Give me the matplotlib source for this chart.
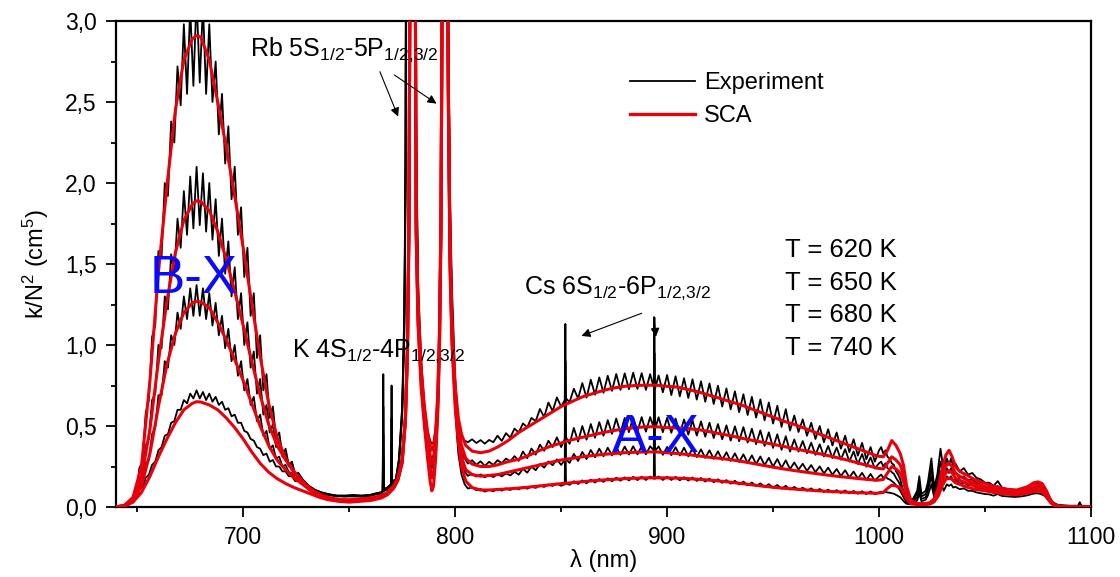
import matplotlib
matplotlib.use('Agg')
import matplotlib.pyplot as plt
from matplotlib.lines import Line2D
from matplotlib.ticker import MultipleLocator, FuncFormatter

plt.rcParams['font.family'] = ['Liberation Sans', 'DejaVu Sans']
plt.rcParams['mathtext.default'] = 'regular'

# ---------------- SCA (semiclassical) absorption, k/N^2 in cm^5 ----------------
sca_wl = [
    640, 644, 648, 652, 656, 660, 664, 668, 672, 676,
    678, 680, 684, 688, 692, 696, 700, 704, 708, 712,
    716, 720, 724, 728, 732, 736, 740, 745, 750, 755,
    760, 765, 768, 771, 773, 775, 776.5, 777.5, 778.2, 779.5,
    780.5, 781.6, 782.5, 784, 785.5, 787, 788.2, 789, 789.8, 790.8,
    791.8, 792.6, 793.3, 795, 796.8, 797.6, 798.5, 800, 801.5, 803,
    805, 808, 812, 816, 820, 825, 830, 835, 840, 845,
    850, 855, 860, 865, 870, 875, 880, 885, 890, 895,
    900, 905, 910, 915, 920, 925, 930, 935, 940, 945,
    950, 955, 960, 965, 970, 975, 980, 985, 990, 995,
    999, 1002, 1004, 1006, 1008, 1010, 1011.5, 1013, 1015, 1018,
    1021, 1024, 1026, 1028, 1030, 1031.5, 1033, 1034.5, 1036, 1038,
    1041, 1045, 1050, 1055, 1060, 1065, 1070, 1073, 1075, 1077,
    1079, 1081, 1083, 1086, 1090, 1100]

sca_740 = [
    0.0, 0.01, 0.06, 0.25, 0.78, 1.45, 1.98, 2.45, 2.76, 2.89,
    2.91, 2.90, 2.76, 2.50, 2.22, 1.92, 1.60, 1.26, 0.93, 0.64,
    0.43, 0.30, 0.21, 0.15, 0.10, 0.07, 0.055, 0.045, 0.045, 0.05,
    0.055, 0.07, 0.09, 0.13, 0.18, 0.30, 0.55, 1.0, 1.8, 6.0,
    6.0, 1.8, 1.25, 0.85, 0.62, 0.46, 0.38, 0.35, 0.37, 0.47,
    0.7, 1.1, 1.8, 6.0, 2.6, 1.6, 1.15, 0.75, 0.55, 0.45,
    0.38, 0.345, 0.335, 0.345, 0.37, 0.41, 0.46, 0.50, 0.54, 0.58,
    0.62, 0.65, 0.68, 0.70, 0.72, 0.735, 0.745, 0.75, 0.752, 0.752,
    0.745, 0.74, 0.725, 0.71, 0.69, 0.67, 0.65, 0.63, 0.605, 0.58,
    0.555, 0.53, 0.51, 0.485, 0.46, 0.435, 0.41, 0.385, 0.36, 0.335,
    0.315, 0.31, 0.35, 0.41, 0.38, 0.33, 0.26, 0.13, 0.04, 0.02,
    0.02, 0.025, 0.05, 0.12, 0.25, 0.32, 0.35, 0.31, 0.25, 0.22,
    0.2, 0.17, 0.145, 0.125, 0.11, 0.105, 0.125, 0.15, 0.155, 0.145,
    0.1, 0.04, 0.012, 0.004, 0.002, 0.0]

sca_680 = [
    0.0, 0.01, 0.05, 0.18, 0.48, 0.90, 1.27, 1.57, 1.77, 1.87,
    1.89, 1.885, 1.83, 1.70, 1.53, 1.33, 1.12, 0.90, 0.69, 0.51,
    0.38, 0.29, 0.22, 0.16, 0.11, 0.08, 0.06, 0.045, 0.04, 0.045,
    0.05, 0.065, 0.085, 0.125, 0.175, 0.29, 0.54, 0.98, 1.75, 6.0,
    6.0, 1.75, 1.2, 0.8, 0.58, 0.42, 0.32, 0.27, 0.29, 0.42,
    0.66, 1.05, 1.75, 6.0, 2.55, 1.55, 1.1, 0.7, 0.49, 0.38,
    0.3, 0.265, 0.25, 0.25, 0.26, 0.28, 0.295, 0.32, 0.35, 0.375,
    0.395, 0.415, 0.43, 0.445, 0.46, 0.472, 0.483, 0.49, 0.495, 0.495,
    0.49, 0.488, 0.484, 0.477, 0.465, 0.452, 0.44, 0.425, 0.412, 0.40,
    0.387, 0.374, 0.36, 0.347, 0.334, 0.32, 0.305, 0.29, 0.272, 0.255,
    0.24, 0.235, 0.27, 0.31, 0.29, 0.26, 0.2, 0.1, 0.035, 0.02,
    0.02, 0.025, 0.045, 0.1, 0.2, 0.255, 0.27, 0.25, 0.21, 0.19,
    0.17, 0.145, 0.125, 0.11, 0.1, 0.095, 0.11, 0.13, 0.135, 0.125,
    0.085, 0.035, 0.01, 0.004, 0.002, 0.0]

sca_650 = [
    0.0, 0.01, 0.04, 0.13, 0.33, 0.62, 0.88, 1.07, 1.20, 1.26,
    1.27, 1.265, 1.23, 1.14, 1.03, 0.91, 0.78, 0.64, 0.50, 0.38,
    0.29, 0.23, 0.18, 0.14, 0.10, 0.07, 0.05, 0.04, 0.035, 0.04,
    0.045, 0.06, 0.08, 0.12, 0.17, 0.28, 0.53, 0.96, 1.7, 6.0,
    6.0, 1.7, 1.15, 0.76, 0.54, 0.36, 0.24, 0.18, 0.21, 0.36,
    0.62, 1.0, 1.7, 6.0, 2.5, 1.5, 1.05, 0.66, 0.44, 0.31,
    0.23, 0.2, 0.19, 0.195, 0.2, 0.215, 0.23, 0.245, 0.26, 0.275,
    0.29, 0.30, 0.31, 0.318, 0.325, 0.33, 0.335, 0.338, 0.34, 0.34,
    0.335, 0.33, 0.323, 0.315, 0.307, 0.3, 0.292, 0.282, 0.27, 0.258,
    0.246, 0.235, 0.225, 0.216, 0.207, 0.198, 0.19, 0.183, 0.176, 0.17,
    0.165, 0.17, 0.21, 0.25, 0.235, 0.21, 0.16, 0.08, 0.03, 0.018,
    0.018, 0.022, 0.04, 0.085, 0.17, 0.21, 0.225, 0.21, 0.18, 0.165,
    0.15, 0.13, 0.115, 0.1, 0.09, 0.085, 0.1, 0.115, 0.12, 0.11,
    0.075, 0.03, 0.008, 0.003, 0.001, 0.0]

sca_620 = [
    0.0, 0.005, 0.03, 0.09, 0.19, 0.31, 0.42, 0.52, 0.60, 0.64,
    0.65, 0.648, 0.63, 0.60, 0.55, 0.49, 0.42, 0.34, 0.27, 0.215,
    0.175, 0.145, 0.12, 0.10, 0.08, 0.06, 0.045, 0.035, 0.03, 0.035,
    0.04, 0.055, 0.075, 0.115, 0.165, 0.27, 0.52, 0.95, 1.68, 6.0,
    6.0, 1.68, 1.12, 0.73, 0.5, 0.3, 0.16, 0.1, 0.13, 0.3,
    0.58, 0.97, 1.68, 6.0, 2.45, 1.45, 1.0, 0.62, 0.4, 0.25,
    0.16, 0.12, 0.105, 0.105, 0.108, 0.112, 0.117, 0.123, 0.13, 0.137,
    0.144, 0.15, 0.156, 0.162, 0.167, 0.171, 0.175, 0.178, 0.18, 0.18,
    0.18, 0.178, 0.175, 0.171, 0.166, 0.16, 0.153, 0.145, 0.137, 0.129,
    0.122, 0.116, 0.111, 0.106, 0.101, 0.097, 0.094, 0.091, 0.088, 0.086,
    0.085, 0.09, 0.115, 0.135, 0.13, 0.12, 0.09, 0.05, 0.02, 0.015,
    0.015, 0.018, 0.032, 0.07, 0.14, 0.17, 0.18, 0.17, 0.15, 0.14,
    0.125, 0.11, 0.1, 0.088, 0.08, 0.075, 0.085, 0.095, 0.1, 0.09,
    0.065, 0.025, 0.007, 0.003, 0.001, 0.0]

# ---------------- measured spectra ----------------
exp_wl = [
    # blue edge
    640, 643, 646, 648, 650,
    # B-X band
    651, 652.5, 654, 655.5, 657, 658.5, 660, 661.5, 663, 664.5,
    666, 667.5, 669, 670.5, 672, 673.5, 675, 676.5, 678, 679.5,
    681, 682.5, 684, 685.5, 687, 688.5, 690, 691.5, 693, 694.5,
    696, 697.5, 699, 700.5, 702, 703.5, 705, 706.5, 708, 709.5,
    711, 712.5, 714, 715.5, 717, 718.5, 720, 721.5, 723, 724.5,
    726,
    # window
    728, 731, 734, 737, 740, 744, 748, 752, 756, 760, 763,
    # K lines, Rb D2
    765, 765.8, 766.1, 766.4, 768, 769.7, 770, 770.3, 772, 773.5,
    775, 776, 776.6, 777.2, 778, 779.5,
    780.5, 781.5, 782.5, 784, 785.5, 787, 788.2, 789, 789.8, 790.8,
    # Rb D1
    791.8, 792.6, 793.3, 795, 796.8, 797.6, 798.5, 800, 801.5, 803, 804.5,
    # A-X band with Cs lines
    806, 808, 810, 812, 814, 816, 818, 820, 822, 824,
    826, 828, 830, 832, 834, 836, 838, 840, 842, 844,
    846, 848, 850, 851.7, 852, 852.3,
    854, 856, 858, 860, 862, 864, 866, 868, 870, 872,
    874, 876, 878, 880, 882, 884, 886, 888, 890, 892,
    893.7, 894, 894.3,
    896, 898, 900, 902, 904, 906, 908, 910, 912, 914,
    916, 918, 920, 922, 924, 926, 928, 930, 932, 934,
    936, 938, 940, 942, 944, 946, 948, 950, 952, 954,
    956, 958, 960, 962, 964, 966, 968, 970, 972, 974,
    976, 978, 980, 982, 984, 986, 988, 990, 992, 994,
    996, 998, 1000,
    # red end
    1001, 1002, 1003, 1004, 1005, 1006, 1007, 1008, 1009, 1010,
    1011, 1012, 1013, 1014,
    1016, 1018, 1019, 1020, 1022, 1023, 1024.7, 1026, 1027.5, 1029,
    1030.5, 1032, 1033, 1034, 1035, 1036, 1038, 1040,
    1042, 1044, 1046, 1048, 1050, 1052, 1054, 1056, 1058, 1061,
    1064, 1067, 1070, 1072, 1074, 1076, 1078, 1080, 1082, 1084,
    1087, 1090, 1094, 1094.7, 1095.4, 1100]

exp_740 = [
    0.0, 0.005, 0.02, 0.05, 0.12,
    0.24, 0.28, 0.58, 0.66, 1.05, 1.12, 1.58, 1.55, 2.0, 1.92,
    2.38, 2.25, 2.72, 2.48, 2.98, 2.55, 3.08, 2.6, 3.15, 2.62,
    3.1, 2.55, 2.98, 2.5, 2.75, 2.3, 2.55, 2.12, 2.35, 1.9,
    2.1, 1.68, 1.85, 1.42, 1.6, 1.18, 1.32, 0.92, 1.06, 0.72,
    0.82, 0.55, 0.62, 0.42, 0.46, 0.32, 0.36, 0.26, 0.28, 0.2,
    0.21,
    0.17, 0.13, 0.105, 0.09, 0.08, 0.07, 0.07, 0.075, 0.07, 0.075, 0.085,
    0.09, 0.1, 0.82, 0.11, 0.12, 0.14, 0.75, 0.16, 0.17, 0.3,
    0.62, 1.2, 2.2, 6.0, 6.0, 6.0,
    6.0, 2.5, 1.4, 0.9, 0.63, 0.47, 0.41, 0.39, 0.4, 0.48,
    0.7, 1.1, 1.8, 6.0, 3.0, 1.9, 1.35, 0.8, 0.5, 0.43, 0.41,
    0.40, 0.418, 0.395, 0.413, 0.391, 0.414, 0.40, 0.44, 0.408, 0.456,
    0.428, 0.484, 0.46, 0.516, 0.492, 0.55, 0.53, 0.605, 0.555, 0.645,
    0.592, 0.676, 0.62, 0.66, 1.13, 0.67,
    0.648, 0.73, 0.67, 0.765, 0.675, 0.785, 0.693, 0.80, 0.705, 0.81,
    0.717, 0.821, 0.723, 0.825, 0.727, 0.829, 0.729, 0.826, 0.723, 0.82,
    0.74, 1.17, 0.73,
    0.812, 0.708, 0.815, 0.691, 0.807, 0.683, 0.795, 0.673, 0.788, 0.663,
    0.776, 0.65, 0.763, 0.636, 0.749, 0.62, 0.732, 0.603, 0.714, 0.585,
    0.696, 0.568, 0.68, 0.552, 0.664, 0.535, 0.645, 0.515, 0.625, 0.495,
    0.604, 0.472, 0.565, 0.463, 0.541, 0.44, 0.52, 0.42, 0.50, 0.40,
    0.48, 0.38, 0.46, 0.36, 0.44, 0.339, 0.418, 0.317, 0.396, 0.295,
    0.37, 0.28, 0.35,
    0.37, 0.33, 0.35, 0.31, 0.30, 0.27, 0.26, 0.22, 0.2, 0.17,
    0.12, 0.08, 0.05, 0.04,
    0.05, 0.1, 0.19, 0.08, 0.1, 0.15, 0.3, 0.12, 0.2, 0.36,
    0.22, 0.3, 0.26, 0.3, 0.25, 0.27, 0.22, 0.24,
    0.2, 0.21, 0.18, 0.17, 0.15, 0.15, 0.13, 0.16, 0.12, 0.11,
    0.1, 0.105, 0.12, 0.135, 0.145, 0.14, 0.12, 0.07, 0.03, 0.015,
    0.01, 0.008, 0.008, 0.03, 0.008, 0.005]

exp_680 = [
    0.0, 0.005, 0.02, 0.045, 0.1,
    0.17, 0.2, 0.38, 0.42, 0.66, 0.7, 1.0, 0.98, 1.3, 1.22,
    1.56, 1.44, 1.78, 1.6, 1.95, 1.68, 2.04, 1.72, 2.1, 1.74,
    2.06, 1.7, 2.0, 1.65, 1.9, 1.55, 1.78, 1.44, 1.64, 1.3,
    1.48, 1.16, 1.32, 1.0, 1.14, 0.86, 0.96, 0.7, 0.79, 0.57,
    0.63, 0.46, 0.51, 0.37, 0.41, 0.31, 0.33, 0.25, 0.27, 0.2,
    0.21,
    0.17, 0.13, 0.105, 0.09, 0.08, 0.07, 0.07, 0.07, 0.07, 0.075, 0.085,
    0.09, 0.1, 0.62, 0.11, 0.12, 0.14, 0.55, 0.15, 0.17, 0.29,
    0.6, 1.15, 2.1, 6.0, 6.0, 6.0,
    6.0, 2.4, 1.3, 0.82, 0.56, 0.4, 0.32, 0.3, 0.32, 0.42,
    0.64, 1.05, 1.75, 6.0, 2.9, 1.8, 1.25, 0.7, 0.42, 0.33, 0.3,
    0.268, 0.289, 0.261, 0.282, 0.254, 0.279, 0.26, 0.289, 0.271, 0.299,
    0.282, 0.314, 0.285, 0.343, 0.301, 0.361, 0.323, 0.385, 0.347, 0.409,
    0.37, 0.43, 0.37, 0.42, 0.9, 0.43,
    0.39, 0.488, 0.404, 0.50, 0.416, 0.512, 0.428, 0.524, 0.44, 0.536,
    0.452, 0.546, 0.458, 0.55, 0.462, 0.554, 0.465, 0.555, 0.465, 0.555,
    0.49, 0.95, 0.48,
    0.554, 0.462, 0.55, 0.458, 0.546, 0.453, 0.54, 0.447, 0.534, 0.441,
    0.528, 0.434, 0.52, 0.426, 0.512, 0.418, 0.504, 0.41, 0.498, 0.406,
    0.493, 0.398, 0.483, 0.388, 0.473, 0.377, 0.461, 0.365, 0.449, 0.353,
    0.437, 0.342, 0.417, 0.342, 0.407, 0.332, 0.397, 0.322, 0.387, 0.312,
    0.377, 0.302, 0.367, 0.292, 0.357, 0.281, 0.343, 0.265, 0.327, 0.249,
    0.306, 0.238, 0.27,
    0.28, 0.25, 0.27, 0.24, 0.23, 0.215, 0.205, 0.18, 0.16, 0.135,
    0.1, 0.065, 0.04, 0.035,
    0.04, 0.08, 0.15, 0.065, 0.08, 0.12, 0.24, 0.1, 0.16, 0.28,
    0.18, 0.24, 0.21, 0.24, 0.2, 0.215, 0.18, 0.19,
    0.165, 0.17, 0.15, 0.14, 0.125, 0.125, 0.11, 0.13, 0.1, 0.095,
    0.09, 0.092, 0.105, 0.115, 0.125, 0.12, 0.1, 0.06, 0.025, 0.012,
    0.008, 0.007, 0.007, 0.025, 0.007, 0.005]

exp_650 = [
    0.0, 0.005, 0.015, 0.035, 0.08,
    0.13, 0.15, 0.27, 0.29, 0.45, 0.49, 0.69, 0.69, 0.9, 0.86,
    1.06, 1.0, 1.2, 1.1, 1.3, 1.16, 1.35, 1.18, 1.37, 1.18,
    1.35, 1.16, 1.32, 1.12, 1.26, 1.06, 1.18, 0.98, 1.1, 0.9,
    1.0, 0.81, 0.9, 0.72, 0.79, 0.63, 0.68, 0.53, 0.57, 0.44,
    0.47, 0.36, 0.38, 0.3, 0.31, 0.25, 0.26, 0.215, 0.21, 0.18,
    0.18,
    0.15, 0.12, 0.1, 0.085, 0.075, 0.07, 0.065, 0.07, 0.065, 0.07, 0.08,
    0.085, 0.095, 0.45, 0.1, 0.11, 0.13, 0.4, 0.145, 0.16, 0.28,
    0.58, 1.1, 2.0, 6.0, 6.0, 6.0,
    6.0, 2.3, 1.25, 0.78, 0.52, 0.36, 0.27, 0.24, 0.27, 0.38,
    0.6, 1.0, 1.7, 6.0, 2.8, 1.7, 1.2, 0.65, 0.37, 0.26, 0.22,
    0.192, 0.206, 0.188, 0.201, 0.183, 0.199, 0.185, 0.203, 0.189, 0.207,
    0.195, 0.217, 0.2, 0.236, 0.212, 0.249, 0.227, 0.265, 0.243, 0.281,
    0.258, 0.294, 0.26, 0.29, 0.7, 0.295,
    0.272, 0.328, 0.284, 0.34, 0.296, 0.352, 0.307, 0.36, 0.313, 0.366,
    0.319, 0.371, 0.322, 0.373, 0.324, 0.375, 0.325, 0.375, 0.325, 0.375,
    0.35, 0.75, 0.345,
    0.374, 0.322, 0.371, 0.32, 0.369, 0.318, 0.366, 0.313, 0.361, 0.308,
    0.356, 0.303, 0.35, 0.297, 0.344, 0.291, 0.338, 0.285, 0.331, 0.278,
    0.325, 0.272, 0.319, 0.265, 0.312, 0.258, 0.304, 0.25, 0.296, 0.242,
    0.288, 0.234, 0.275, 0.231, 0.267, 0.223, 0.259, 0.215, 0.251, 0.207,
    0.243, 0.199, 0.235, 0.191, 0.227, 0.183, 0.219, 0.175, 0.211, 0.167,
    0.204, 0.162, 0.19,
    0.2, 0.18, 0.19, 0.175, 0.17, 0.16, 0.15, 0.135, 0.12, 0.1,
    0.075, 0.05, 0.03, 0.025,
    0.03, 0.06, 0.12, 0.05, 0.06, 0.1, 0.19, 0.08, 0.13, 0.22,
    0.14, 0.19, 0.17, 0.19, 0.16, 0.17, 0.145, 0.15,
    0.135, 0.135, 0.12, 0.11, 0.1, 0.1, 0.09, 0.1, 0.085, 0.08,
    0.075, 0.078, 0.088, 0.097, 0.105, 0.1, 0.085, 0.05, 0.02, 0.01,
    0.007, 0.006, 0.006, 0.02, 0.006, 0.004]

exp_620 = [
    0.0, 0.004, 0.015, 0.03, 0.06,
    0.11, 0.12, 0.18, 0.2, 0.26, 0.28, 0.35, 0.37, 0.44, 0.45,
    0.52, 0.53, 0.6, 0.6, 0.66, 0.64, 0.7, 0.67, 0.72, 0.67,
    0.71, 0.66, 0.7, 0.65, 0.68, 0.63, 0.65, 0.6, 0.61, 0.56,
    0.57, 0.52, 0.52, 0.47, 0.46, 0.42, 0.41, 0.37, 0.36, 0.32,
    0.33, 0.28, 0.29, 0.25, 0.25, 0.22, 0.22, 0.19, 0.19, 0.16,
    0.16,
    0.14, 0.12, 0.1, 0.085, 0.075, 0.065, 0.065, 0.065, 0.065, 0.07, 0.08,
    0.08, 0.09, 0.3, 0.1, 0.11, 0.13, 0.28, 0.14, 0.155, 0.27,
    0.56, 1.05, 1.9, 6.0, 6.0, 6.0,
    6.0, 2.2, 1.2, 0.75, 0.5, 0.33, 0.22, 0.18, 0.22, 0.35,
    0.56, 0.95, 1.65, 6.0, 2.7, 1.6, 1.15, 0.6, 0.33, 0.2, 0.14,
    0.114, 0.121, 0.104, 0.111, 0.095, 0.107, 0.097, 0.111, 0.101, 0.115,
    0.105, 0.119, 0.109, 0.123, 0.113, 0.127, 0.118, 0.133, 0.124, 0.139,
    0.13, 0.145, 0.131, 0.14, 0.5, 0.145,
    0.137, 0.159, 0.142, 0.164, 0.146, 0.169, 0.151, 0.173, 0.155, 0.177,
    0.159, 0.181, 0.162, 0.183, 0.164, 0.186, 0.166, 0.187, 0.167, 0.188,
    0.175, 0.55, 0.175,
    0.188, 0.167, 0.187, 0.167, 0.186, 0.165, 0.184, 0.163, 0.182, 0.161,
    0.179, 0.157, 0.175, 0.153, 0.171, 0.149, 0.166, 0.144, 0.162, 0.139,
    0.157, 0.134, 0.151, 0.129, 0.146, 0.124, 0.141, 0.118, 0.136, 0.113,
    0.131, 0.108, 0.124, 0.106, 0.119, 0.101, 0.115, 0.097, 0.111, 0.093,
    0.107, 0.09, 0.104, 0.087, 0.102, 0.084, 0.099, 0.082, 0.097, 0.08,
    0.096, 0.079, 0.09,
    0.095, 0.088, 0.093, 0.09, 0.088, 0.085, 0.082, 0.075, 0.068, 0.06,
    0.045, 0.03, 0.02, 0.018,
    0.02, 0.04, 0.085, 0.035, 0.045, 0.07, 0.14, 0.06, 0.09, 0.16,
    0.1, 0.14, 0.13, 0.14, 0.12, 0.125, 0.11, 0.115,
    0.1, 0.1, 0.09, 0.085, 0.08, 0.078, 0.07, 0.08, 0.068, 0.065,
    0.062, 0.065, 0.072, 0.08, 0.085, 0.082, 0.07, 0.04, 0.015, 0.008,
    0.005, 0.005, 0.005, 0.015, 0.005, 0.004]

temperatures = [620, 650, 680, 740]

RED = '#e8000b'
BLUE = '#0a0aff'

fig = plt.figure(figsize=(11.2, 5.77), dpi=100)
ax = fig.add_axes([0.1036, 0.1213, 0.8705, 0.8423])

for y in (exp_620, exp_650, exp_680, exp_740):
    ax.plot(exp_wl, y, color='black', lw=1.3, zorder=2)
for y in (sca_620, sca_650, sca_680, sca_740):
    ax.plot(sca_wl, y, color=RED, lw=2.2, zorder=3)

ax.set_xlim(640, 1100)
ax.set_ylim(0, 3.0)

ax.xaxis.set_major_locator(MultipleLocator(100))
ax.xaxis.set_minor_locator(MultipleLocator(50))
ax.yaxis.set_major_locator(MultipleLocator(0.5))
ax.yaxis.set_minor_locator(MultipleLocator(0.25))
ax.yaxis.set_major_formatter(FuncFormatter(lambda v, p: f'{v:.1f}'.replace('.', ',')))
ax.tick_params(which='major', length=7, width=1.3, labelsize=16.5)
ax.tick_params(which='minor', length=3.5, width=1.3)
ax.tick_params(axis='x', which='major', pad=7)
ax.tick_params(axis='y', which='major', pad=7)
for s in ax.spines.values():
    s.set_linewidth(1.6)

ax.set_xlabel('λ (nm)', fontsize=17, labelpad=0)
ax.set_ylabel('k/N$^{2}$ (cm$^{5}$)', fontsize=17, labelpad=10)

# legend
handles = [Line2D([], [], color='black', lw=1.3), Line2D([], [], color=RED, lw=2.4)]
ax.legend(handles, ['Experiment', 'SCA'], loc='upper left', bbox_to_anchor=(0.527, 0.895),
          frameon=False, fontsize=17, handlelength=2.75, handletextpad=0.4,
          labelspacing=0.47, borderpad=0, borderaxespad=0)

# temperatures
for i, t in enumerate(temperatures):
    ax.text(955.6, 1.543 - i * 0.202, f'T = {t} K', fontsize=18.5, va='baseline')

# band labels
ax.text(656, 1.32, 'B-X', fontsize=38, color=BLUE, va='baseline')
ax.text(873.8, 0.34, 'A-X', fontsize=38, color=BLUE, va='baseline')

# atomic lines
ax.text(703.2, 2.786, r'Rb 5S$_{1/2}$-5P$_{1/2{,}3/2}$', fontsize=18, va='baseline')
ax.text(723, 0.928, r'K 4S$_{1/2}$-4P$_{1/2{,}3/2}$', fontsize=18, va='baseline')
ax.text(832.5, 1.319, r'Cs 6S$_{1/2}$-6P$_{1/2{,}3/2}$', fontsize=18, va='baseline')

arrow = dict(arrowstyle='-|>', color='black', lw=0.8, mutation_scale=13,
             shrinkA=0, shrinkB=0)
ax.annotate('', xy=(773.1, 2.41), xytext=(764.5, 2.687), arrowprops=arrow)
ax.annotate('', xy=(791.2, 2.49), xytext=(771.3, 2.667), arrowprops=arrow)
ax.annotate('', xy=(859.6, 1.056), xytext=(888.0, 1.196), arrowprops=arrow)
ax.annotate('', xy=(894.7, 1.05), xytext=(893.8, 1.175), arrowprops=arrow)

fig.savefig('out.png', dpi=100)
